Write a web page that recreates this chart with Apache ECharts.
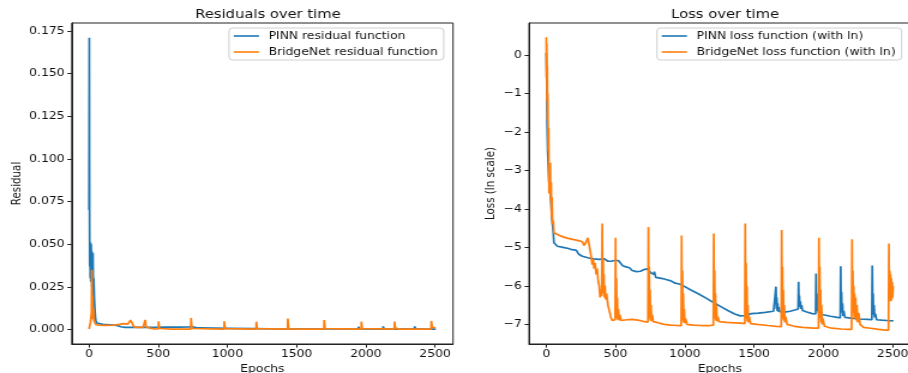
<!DOCTYPE html>
<html>
<head>
<meta charset="utf-8">
<script src="https://cdn.jsdelivr.net/npm/echarts@6/dist/echarts.min.js"></script>
<style>
  html, body { margin: 0; padding: 0; background: #fff; overflow: hidden; }
  /* the reference figure is stretched horizontally, so draw narrow and scale x */
  #main { width: 757px; height: 373px; transform: scaleX(1.19947); transform-origin: 0 0; }
</style>
</head>
<body>
<div id="main"></div>
<script>
const epochTicks = [0, 500, 1000, 1500, 2000, 2500]
const residualTicks = [0, 0.025, 0.05, 0.075, 0.1, 0.125, 0.15, 0.175]
const lossTicks = [-7, -6, -5, -4, -3, -2, -1, 0]

// [epoch, residual]
const pinnResidual = [
  [0, 0.070], [1, 0.12], [2, 0.171], [3, 0.10], [4, 0.06], [5, 0.037], [7, 0.05], [9, 0.03],
  [11, 0.051], [13, 0.028], [15, 0.05], [17, 0.035], [19, 0.046], [21, 0.025], [23, 0.045],
  [25, 0.03], [28, 0.045], [31, 0.02], [34, 0.03], [38, 0.018], [42, 0.012], [46, 0.007],
  [50, 0.005], [55, 0.0038], [70, 0.0033], [100, 0.003], [150, 0.0027], [200, 0.0024],
  [230, 0.0016], [260, 0.0013], [350, 0.0012], [420, 0.0012], [480, 0.0013], [550, 0.0014],
  [650, 0.0014], [720, 0.0015], [745, 0.0016], [790, 0.0009], [900, 0.0008], [1000, 0.0007],
  [1200, 0.0005], [1400, 0.0003], [1655, 0.0003], [1658, 0.0012], [1665, 0.0003],
  [1818, 0.0003], [1821, 0.0013], [1828, 0.0003], [1944, 0.0003], [1947, 0.0015], [1955, 0.0003],
  [2122, 0.0002], [2125, 0.0018], [2132, 0.0002], [2350, 0.0002], [2353, 0.0018], [2360, 0.0002],
  [2505, 0.0002]
]

const bridgeResidual = [
  [0, 0.0003], [5, 0.001], [10, 0.004], [14, 0.003], [18, 0.01], [20, 0.035], [23, 0.012],
  [26, 0.02], [28, 0.006], [32, 0.012], [36, 0.005], [42, 0.004], [50, 0.0028], [70, 0.0025],
  [120, 0.0024], [180, 0.0025], [220, 0.003], [250, 0.0034], [280, 0.0032], [300, 0.0055],
  [310, 0.0045], [325, 0.0015], [345, 0.0013], [350, 0.0022], [360, 0.0015], [390, 0.0012],
  [404, 0.0012], [406, 0.0056], [412, 0.0015], [440, 0.0008], [470, 0.0004], [500, 0.0003],
  [502, 0.0048], [508, 0.0006], [600, 0.0002], [735, 0.0002], [737, 0.0068], [743, 0.0006],
  [760, 0.0002], [975, 0.0002], [977, 0.0048], [983, 0.0005], [1000, 0.0002],
  [1207, 0.0002], [1209, 0.0046], [1215, 0.0005], [1230, 0.0002], [1434, 0.0002], [1436, 0.0064],
  [1442, 0.0006], [1460, 0.0002], [1697, 0.0002], [1699, 0.0055], [1705, 0.0005], [1720, 0.0002],
  [1966, 0.0002], [1968, 0.0047], [1974, 0.0005], [1990, 0.0002], [2205, 0.0002], [2207, 0.0047],
  [2213, 0.0008], [2240, 0.0002], [2471, 0.0002], [2473, 0.005], [2480, 0.0012], [2490, 0.002],
  [2505, 0.001]
]

// [epoch, ln(loss)]
const pinnLoss = [
  [0, 0.05], [3, -0.6], [6, -1.8], [10, -2.5], [15, -2.9], [20, -3.3], [28, -3.5], [35, -3.9],
  [42, -4.3], [50, -4.6], [55, -4.88], [60, -4.93], [80, -4.97], [120, -5.0], [160, -5.03],
  [185, -5.06], [200, -5.04], [215, -5.07], [235, -5.18], [260, -5.23], [300, -5.27], [340, -5.3],
  [380, -5.31], [420, -5.3], [445, -5.36], [470, -5.36], [490, -5.34], [520, -5.34], [535, -5.36],
  [550, -5.47], [570, -5.5], [600, -5.53], [620, -5.6], [650, -5.63], [680, -5.62], [710, -5.57],
  [730, -5.56], [745, -5.57], [755, -5.66], [765, -5.63], [775, -5.7], [780, -5.63], [790, -5.78],
  [800, -5.81], [840, -5.81], [870, -5.84], [900, -5.87], [930, -5.93], [960, -5.95], [990, -6.0],
  [1040, -6.1], [1100, -6.21], [1160, -6.33], [1210, -6.44], [1260, -6.54], [1310, -6.64],
  [1360, -6.73], [1400, -6.78], [1440, -6.77], [1480, -6.72], [1530, -6.71], [1580, -6.69],
  [1640, -6.66], [1655, -6.66], [1658, -6.02], [1661, -6.6], [1664, -6.3], [1667, -6.65],
  [1670, -6.45], [1674, -6.67], [1678, -6.55], [1684, -6.67], [1720, -6.68], [1760, -6.66],
  [1800, -6.62], [1818, -6.6], [1821, -5.89], [1824, -6.5], [1827, -6.25], [1830, -6.55],
  [1834, -6.4], [1838, -6.6], [1843, -6.5], [1850, -6.64], [1880, -6.68], [1920, -6.72],
  [1944, -6.73], [1947, -5.68], [1950, -6.55], [1953, -6.2], [1956, -6.65], [1960, -6.45],
  [1964, -6.7], [1969, -6.6], [1976, -6.73], [2000, -6.75], [2050, -6.79], [2100, -6.82],
  [2122, -6.83], [2125, -5.49], [2128, -6.6], [2131, -6.15], [2134, -6.7], [2138, -6.45],
  [2142, -6.78], [2147, -6.65], [2155, -6.82], [2200, -6.84], [2260, -6.86], [2320, -6.87],
  [2350, -6.88], [2353, -5.47], [2356, -6.6], [2359, -6.2], [2362, -6.75], [2366, -6.5],
  [2370, -6.82], [2375, -6.72], [2384, -6.88], [2420, -6.89], [2460, -6.9], [2505, -6.91]
]

const bridgeLoss = [
  [0, 0.46], [2, -0.6], [3, 0.3], [5, -1.2], [7, -0.3], [9, -1.7], [11, -1.0], [14, -2.5],
  [17, -1.9], [20, -3.6], [23, -2.9], [26, -3.3], [29, -2.8], [32, -3.8], [35, -3.3], [38, -4.2],
  [41, -3.7], [45, -4.4], [50, -4.3], [55, -4.62], [60, -4.64], [100, -4.7], [150, -4.76],
  [200, -4.8], [240, -4.83], [262, -4.86], [272, -4.95], [285, -4.88], [300, -4.75], [310, -4.8],
  [320, -5.15], [332, -5.45], [338, -5.3], [345, -5.55], [352, -5.4], [360, -5.7], [367, -5.55],
  [375, -5.9], [382, -6.0], [388, -6.3], [394, -6.1], [400, -6.27], [404, -4.38], [407, -6.0],
  [410, -5.3], [413, -6.2], [416, -5.7], [420, -6.3], [424, -6.0], [428, -6.35], [435, -6.2],
  [445, -6.5], [455, -6.65], [465, -6.8], [475, -6.9], [488, -6.9], [497, -6.88], [500, -4.75],
  [503, -6.6], [506, -5.8], [509, -6.85], [512, -6.3], [516, -6.88], [520, -6.6], [525, -6.9],
  [530, -6.75], [540, -6.9], [580, -6.88], [620, -6.87], [660, -6.89], [700, -6.92], [734, -6.94],
  [737, -4.47], [740, -6.6], [743, -5.5], [746, -6.85], [749, -6.1], [752, -6.9], [756, -6.5],
  [760, -6.92], [765, -6.75], [772, -6.93], [800, -6.95], [850, -7.0], [900, -7.02], [950, -7.03],
  [974, -7.03], [977, -4.69], [980, -6.7], [983, -5.6], [986, -6.9], [989, -6.2], [992, -6.95],
  [996, -6.6], [1000, -6.97], [1006, -6.85], [1015, -7.0], [1060, -7.02], [1120, -7.03],
  [1180, -7.03], [1206, -7.02], [1209, -4.64], [1212, -6.6], [1215, -5.6], [1218, -6.85],
  [1221, -6.2], [1224, -6.9], [1228, -6.5], [1232, -6.92], [1238, -6.8], [1248, -6.93],
  [1300, -6.95], [1360, -6.96], [1400, -6.97], [1433, -6.98], [1436, -4.38], [1439, -6.6],
  [1442, -5.4], [1445, -6.85], [1448, -6.0], [1451, -6.92], [1455, -6.5], [1459, -6.95],
  [1465, -6.8], [1475, -6.98], [1520, -7.0], [1600, -7.03], [1660, -7.05], [1696, -7.06],
  [1699, -4.55], [1702, -6.6], [1705, -5.5], [1708, -6.85], [1711, -6.1], [1714, -6.9],
  [1718, -6.5], [1722, -6.95], [1728, -6.8], [1738, -7.0], [1790, -7.05], [1850, -7.08],
  [1930, -7.1], [1965, -7.1], [1968, -4.75], [1971, -6.6], [1974, -5.5], [1977, -6.85],
  [1980, -6.1], [1983, -6.95], [1987, -6.5], [1991, -7.0], [1997, -6.85], [2008, -7.05],
  [2060, -7.1], [2130, -7.12], [2180, -7.13], [2204, -7.13], [2207, -4.79], [2210, -6.5],
  [2213, -5.6], [2216, -6.7], [2219, -6.0], [2222, -6.8], [2225, -6.2], [2229, -6.85],
  [2233, -6.3], [2237, -6.9], [2242, -6.5], [2248, -6.95], [2255, -6.7], [2265, -7.0],
  [2290, -7.08], [2340, -7.1], [2400, -7.13], [2450, -7.15], [2470, -7.15], [2473, -4.9],
  [2476, -6.4], [2479, -5.6], [2482, -6.3], [2485, -5.7], [2488, -6.4], [2491, -5.8],
  [2494, -6.35], [2497, -5.9], [2500, -6.3], [2503, -6.0]
]

const FONT = 'DejaVu Sans'
const INK = '#111'
const BLUE = '#1f77b4'
const ORANGE = '#ff7f0e'

const minus = v => (v < 0 ? '\u2212' + Math.abs(v) : String(v))

function xAxisFor(gridIndex) {
  return {
    type: 'value', gridIndex, min: -125, max: 2630,
    name: 'Epochs', nameLocation: 'middle', nameGap: 19,
    nameTextStyle: { fontFamily: FONT, fontSize: 10.3, color: INK },
    axisLine: { show: true, onZero: false, lineStyle: { color: '#222', width: 1 } },
    axisTick: { show: true, length: 3.6, customValues: epochTicks, lineStyle: { color: '#222' } },
    axisLabel: { customValues: epochTicks, margin: 5, fontFamily: FONT, fontSize: 10.3, color: INK,
      formatter: v => String(v) },
    splitLine: { show: false }
  }
}

function yAxisFor(gridIndex, opts) {
  return {
    type: 'value', gridIndex, min: opts.min, max: opts.max,
    name: opts.name, nameLocation: 'middle', nameGap: opts.nameGap,
    nameTextStyle: { fontFamily: FONT, fontSize: 10.3, color: INK },
    axisLine: { show: true, onZero: false, lineStyle: { color: '#222', width: 1 } },
    axisTick: { show: true, length: 3.6, customValues: opts.ticks, lineStyle: { color: '#222' } },
    axisLabel: { customValues: opts.ticks, margin: 6, fontFamily: FONT, fontSize: 10.3, color: INK, formatter: opts.formatter },
    splitLine: { show: false }
  }
}

function line(name, data, color, idx) {
  return {
    name, type: 'line', data, xAxisIndex: idx, yAxisIndex: idx,
    showSymbol: false, symbol: 'none', animation: false,
    lineStyle: { color, width: 1.7 }, itemStyle: { color }
  }
}

const legendBase = {
  orient: 'vertical', top: 28, icon: 'rect', itemWidth: 21, itemHeight: 1.6, itemGap: 6,
  padding: [3, 5, 3, 4], backgroundColor: 'rgba(255,255,255,0.8)',
  borderColor: '#d0d0d0', borderWidth: 1, borderRadius: 3,
  textStyle: { fontFamily: FONT, fontSize: 10.3, color: INK, padding: [0, 0, 0, 3] }
}

const chart = echarts.init(document.getElementById('main'))
chart.setOption({
  animation: false,
  backgroundColor: '#fff',
  title: [
    { text: 'Residuals over time', left: 218.4, top: 4, textAlign: 'center',
      textStyle: { fontFamily: FONT, fontSize: 12.3, fontWeight: 'normal', color: INK } },
    { text: 'Loss over time', left: 599.5, top: 4, textAlign: 'center',
      textStyle: { fontFamily: FONT, fontSize: 12.3, fontWeight: 'normal', color: INK } }
  ],
  legend: [
    Object.assign({}, legendBase, { left: 190.9, data: ['PINN residual function', 'BridgeNet residual function'] }),
    Object.assign({}, legendBase, { left: 547.7, data: ['PINN loss function (with ln)', 'BridgeNet loss function (with ln)'] })
  ],
  grid: [
    { left: 59.8, top: 23, width: 317.9, height: 321, outerBoundsMode: 'none',
      show: true, borderColor: '#222', borderWidth: 1 },
    { left: 441.0, top: 23, width: 318.2, height: 321, outerBoundsMode: 'none',
      show: true, borderColor: '#222', borderWidth: 1 }
  ],
  xAxis: [xAxisFor(0), xAxisFor(1)],
  yAxis: [
    yAxisFor(0, { min: -0.0085, max: 0.1797, ticks: residualTicks, name: 'Residual', nameGap: 40,
      formatter: v => v.toFixed(3) }),
    yAxisFor(1, { min: -7.51, max: 0.83, ticks: lossTicks, name: 'Loss (ln scale)', nameGap: 26.5,
      formatter: minus })
  ],
  series: [
    line('PINN residual function', pinnResidual, BLUE, 0),
    line('BridgeNet residual function', bridgeResidual, ORANGE, 0),
    line('PINN loss function (with ln)', pinnLoss, BLUE, 1),
    line('BridgeNet loss function (with ln)', bridgeLoss, ORANGE, 1)
  ]
})
</script>
</body>
</html>
